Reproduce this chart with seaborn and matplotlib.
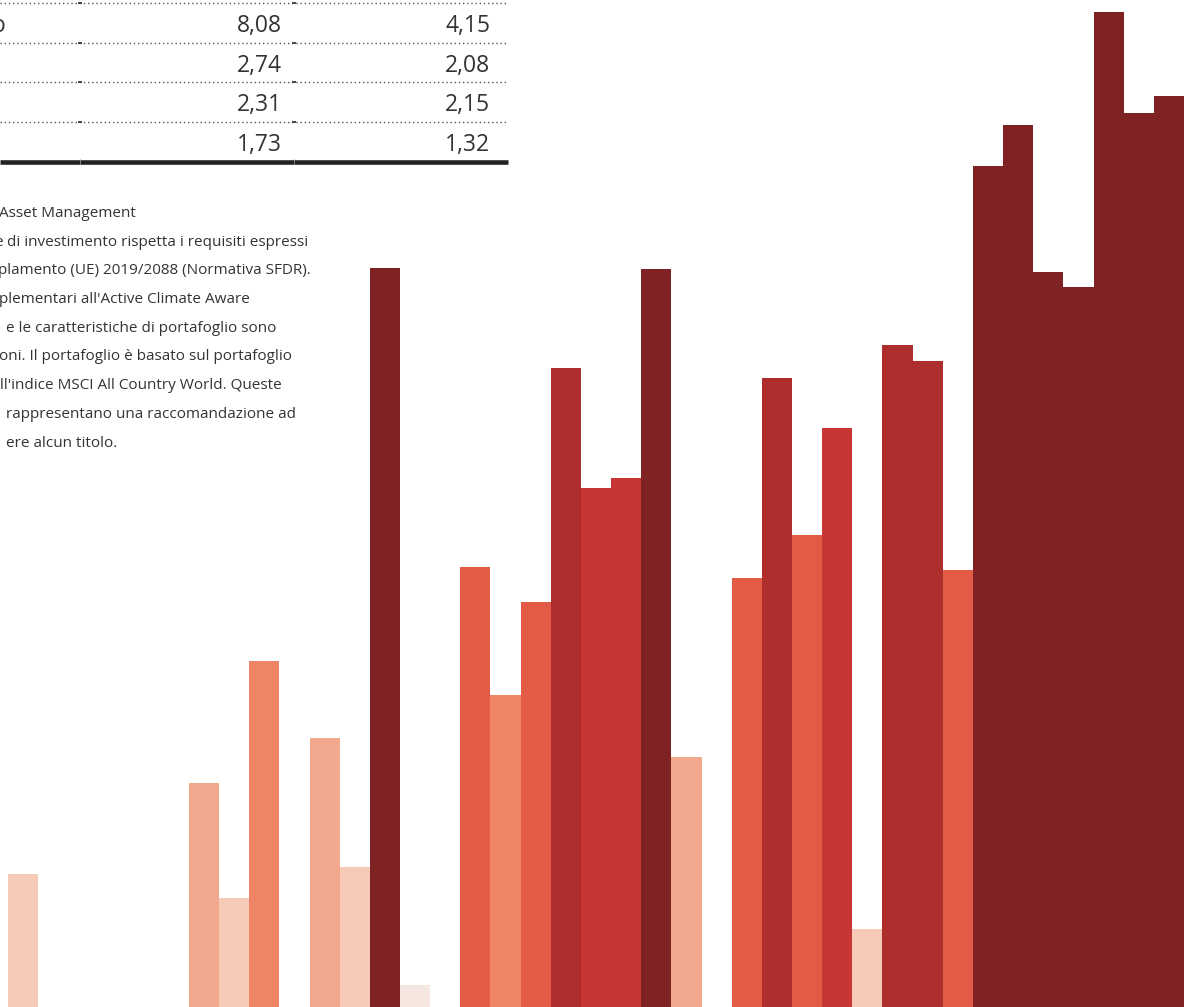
import matplotlib
matplotlib.use("Agg")
import matplotlib.pyplot as plt
from matplotlib.lines import Line2D
import seaborn as sns
import pandas as pd

# ---------------- data ----------------
bar_values = [0.133, 0, 0, 0, 0, 0, 0.224, 0.109, 0.346, 0,
              0.269, 0.140, 0.739, 0.022, 0, 0.440, 0.312, 0.405, 0.639, 0.519,
              0.529, 0.738, 0.250, 0, 0.429, 0.629, 0.472, 0.579, 0.078, 0.662,
              0.646, 0.437, 0.841, 0.882, 0.735, 0.720, 0.995, 0.894, 0.911]
bar_levels = [1, 0, 0, 0, 0, 0, 2, 1, 3, 0,
              2, 1, 7, 0, 0, 4, 3, 4, 6, 5,
              5, 7, 2, 0, 4, 6, 4, 5, 1, 6,
              6, 4, 7, 7, 7, 7, 7, 7, 7]
level_colors = ["#F5E6DF", "#F6CAB7", "#F2A88C", "#EE8566",
                "#E35A47", "#C73535", "#AE2D2D", "#7E2223"]

table_col1 = ["8,08", "2,74", "2,31", "1,73"]
table_col2 = ["4,15", "2,08", "2,15", "1,32"]

note_lines = [
    "Asset Management",
    "di investimento rispetta i requisiti espressi",
    "plamento (UE) 2019/2088 (Normativa SFDR).",
    "plementari all'Active Climate Aware",
    "e le caratteristiche di portafoglio sono",
    "oni. Il portafoglio è basato sul portafoglio",
    "ll'indice MSCI All Country World. Queste",
    "rappresentano una raccomandazione ad",
    "ere alcun titolo.",
]
note_x = [-1, 7, -2, -1, 6, -1, 0, 6, 6]

# ---------------- figure ----------------
W, H = 1191, 1007
fig = plt.figure(figsize=(W / 100, H / 100), dpi=100)
fig.patch.set_facecolor("white")


def fx(x):
    return x / W


def fy(y):
    return 1 - y / H


# bars
df = pd.DataFrame({
    "idx": list(range(len(bar_values))),
    "value": bar_values,
    "level": [str(l) for l in bar_levels],
})
palette = {str(i): c for i, c in enumerate(level_colors)}

ax = fig.add_axes([fx(8), 0, (1184 - 8) / W, 1])
sns.barplot(data=df, x="idx", y="value", hue="level", palette=palette,
            dodge=False, legend=False, width=1.0, linewidth=0,
            saturation=1, ax=ax, order=list(range(len(bar_values))))
ax.set_xlim(-0.5, len(bar_values) - 0.5)
ax.set_ylim(0, 1.007)
ax.axis("off")

# table lines
text_color = "#333333"
for y in [3, 43, 82, 122]:
    fig.add_artist(Line2D([fx(0), fx(508)], [fy(y), fy(y)], transform=fig.transFigure,
                          color="#555555", lw=1.0, linestyle=(0, (1, 2))))
    for xs in [80, 294]:
        fig.add_artist(Line2D([fx(xs - 1), fx(xs + 1)], [fy(y), fy(y)],
                              transform=fig.transFigure, color="#444444", lw=1.4))
fig.add_artist(Line2D([fx(0), fx(508)], [fy(161.5), fy(161.5)], transform=fig.transFigure,
                      color="#222222", lw=3.3, solid_capstyle="butt"))
for xs in [80, 294]:
    fig.add_artist(Line2D([fx(xs), fx(xs)], [fy(159), fy(164)], transform=fig.transFigure,
                          color="#aaaaaa", lw=0.5))

fam = ["Open Sans", "DejaVu Sans"]
baselines = [32, 72, 111, 151]
for b, v1, v2 in zip(baselines, table_col1, table_col2):
    fig.text(fx(282), fy(b), v1, ha="right", va="baseline", fontsize=16.5,
             color=text_color, family=fam)
    fig.text(fx(490), fy(b), v2, ha="right", va="baseline", fontsize=16.5,
             color=text_color, family=fam)
fig.text(fx(-8), fy(32), "o", ha="left", va="baseline", fontsize=16.5,
         color=text_color, family=fam)

# notes
note_base = [217, 246, 274, 303, 332, 360, 389, 418, 447]
for x, b, s in zip(note_x, note_base, note_lines):
    fig.text(fx(x), fy(b), s, ha="left", va="baseline", fontsize=11,
             color=text_color, family=fam)
fig.text(fx(-6), fy(246), "e", ha="left", va="baseline", fontsize=11,
         color=text_color, family=fam)

fig.savefig("out.png", dpi=100, facecolor="white")
